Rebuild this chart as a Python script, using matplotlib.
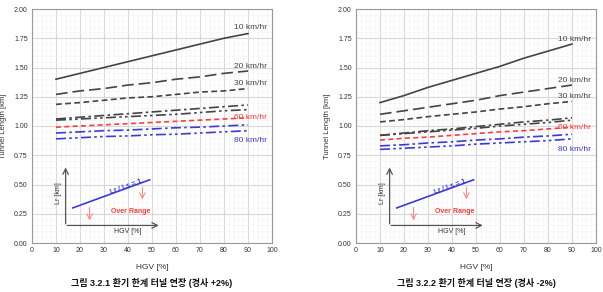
import matplotlib
matplotlib.use("Agg")
import matplotlib.pyplot as plt
import numpy as np

plt.rcParams['font.family'] = ['Liberation Sans', 'Noto Sans CJK KR', 'DejaVu Sans']

hgv = [10, 20, 30, 40, 50, 60, 70, 80, 90]

speeds = ['10 km/hr', '20 km/hr', '30 km/hr', '40 km/hr', '50 km/hr', '60 km/hr', '70 km/hr', '80 km/hr']

left_series = {
    '10 km/hr': [1.40, 1.45, 1.50, 1.55, 1.60, 1.65, 1.70, 1.75, 1.79],
    '20 km/hr': [1.27, 1.30, 1.32, 1.35, 1.37, 1.40, 1.42, 1.45, 1.47],
    '30 km/hr': [1.185, 1.20, 1.22, 1.24, 1.25, 1.27, 1.29, 1.30, 1.32],
    '40 km/hr': [1.06, 1.075, 1.09, 1.105, 1.12, 1.135, 1.15, 1.165, 1.18],
    '50 km/hr': [1.05, 1.06, 1.07, 1.08, 1.09, 1.10, 1.115, 1.13, 1.14],
    '60 km/hr': [0.99, 1.00, 1.01, 1.02, 1.03, 1.04, 1.05, 1.06, 1.07],
    '70 km/hr': [0.94, 0.95, 0.96, 0.965, 0.975, 0.985, 0.99, 1.00, 1.01],
    '80 km/hr': [0.89, 0.90, 0.91, 0.915, 0.925, 0.93, 0.94, 0.95, 0.96],
}

right_series = {
    '10 km/hr': [1.20, 1.26, 1.33, 1.39, 1.45, 1.51, 1.58, 1.64, 1.70],
    '20 km/hr': [1.10, 1.13, 1.16, 1.19, 1.22, 1.26, 1.29, 1.32, 1.35],
    '30 km/hr': [1.035, 1.055, 1.08, 1.10, 1.12, 1.145, 1.165, 1.19, 1.21],
    '40 km/hr': [0.92, 0.94, 0.96, 0.975, 0.995, 1.015, 1.035, 1.05, 1.07],
    '50 km/hr': [0.92, 0.935, 0.95, 0.965, 0.98, 1.00, 1.015, 1.03, 1.05],
    '60 km/hr': [0.88, 0.895, 0.905, 0.92, 0.935, 0.95, 0.96, 0.975, 0.99],
    '70 km/hr': [0.83, 0.84, 0.855, 0.865, 0.88, 0.89, 0.905, 0.915, 0.93],
    '80 km/hr': [0.80, 0.81, 0.82, 0.83, 0.845, 0.855, 0.865, 0.875, 0.89],
}

left_labels = {'10 km/hr': 1.84, '20 km/hr': 1.51, '30 km/hr': 1.36, '60 km/hr': 1.07, '80 km/hr': 0.88}
right_labels = {'10 km/hr': 1.74, '20 km/hr': 1.39, '30 km/hr': 1.25, '60 km/hr': 0.99, '80 km/hr': 0.80}

captions = ['그림 3.2.1 환기 한계 터널 연장 (경사 +2%)', '그림 3.2.2 환기 한계 터널 연장 (경사 -2%)']

BLK = '#444444'
RED = '#ff3b3b'
BLU = '#3b3bd6'
LW = 1.2
styles = {
    '10 km/hr': dict(color=BLK, ls='-', lw=LW),
    '20 km/hr': dict(color=BLK, ls=(0, (7, 3)), lw=LW),
    '30 km/hr': dict(color=BLK, ls=(0, (3.5, 2)), lw=LW),
    '40 km/hr': dict(color=BLK, ls=(0, (6, 2, 1.5, 2)), lw=LW),
    '50 km/hr': dict(color=BLK, ls=(0, (6, 2, 1.5, 2, 1.5, 2)), lw=LW),
    '60 km/hr': dict(color=RED, ls=(0, (3, 2)), lw=LW),
    '70 km/hr': dict(color=BLU, ls=(0, (6, 2, 1.5, 2)), lw=LW),
    '80 km/hr': dict(color=BLU, ls=(0, (6, 2, 1.5, 2, 1.5, 2)), lw=LW),
}
label_colors = {'10 km/hr': BLK, '20 km/hr': BLK, '30 km/hr': BLK, '60 km/hr': RED, '80 km/hr': BLU}

W, H = 603, 292
fig = plt.figure(figsize=(W / 100, H / 100), dpi=100)

def draw(ax_left_px, series, labels, caption):
    ax = fig.add_axes([ax_left_px / W, (H - 243) / H, 240 / W, 234 / H])
    ax.set_xlim(0, 100)
    ax.set_ylim(0, 2.0)
    ax.set_xticks(np.arange(0, 101, 10))
    ax.set_yticks(np.arange(0, 2.01, 0.25))
    ax.set_yticklabels([f'{v:.2f}' for v in np.arange(0, 2.01, 0.25)])
    ax.set_xticks(np.arange(0, 101, 2), minor=True)
    ax.set_yticks(np.arange(0, 2.01, 0.05), minor=True)
    ax.grid(which='major', color='#d8d8d8', lw=0.8)
    ax.grid(which='minor', color='#f4f4f4', lw=0.4)
    ax.set_axisbelow(True)
    ax.tick_params(which='both', length=0, labelsize=5, colors='#333333', pad=3)
    for s in ax.spines.values():
        s.set_color('#999999')
        s.set_linewidth(0.8)
    for name in speeds:
        ax.plot(hgv, series[name], **styles[name])
    for name, y in labels.items():
        ax.text(98, y, name, ha='right', va='center', fontsize=6, color=label_colors[name])
    ax.set_xlabel('HGV [%]', fontsize=6, color='#333333', labelpad=7)
    ax.set_ylabel('Tunnel Length [km]', fontsize=5.5, color='#333333', labelpad=5)
    # inset schematic
    ax.annotate('', xy=(14, 0.67), xytext=(14, 0.14),
                arrowprops=dict(arrowstyle='->', color='#555555', lw=0.9))
    ax.annotate('', xy=(54, 0.15), xytext=(13.5, 0.15),
                arrowprops=dict(arrowstyle='->', color='#555555', lw=0.9))
    ax.plot([17, 49], [0.30, 0.54], color=BLU, lw=1.2)
    ax.text(39, 0.475, 'Lr / Ls = 1', color=BLU, fontsize=5, fontweight='bold',
            rotation=20, ha='center', va='center')
    ax.text(11.2, 0.43, 'Lr [km]', rotation=90, fontsize=5, color='#333333', ha='center', va='center')
    ax.text(40, 0.10, 'HGV [%]', fontsize=5, color='#333333', ha='center', va='center')
    ax.text(41, 0.265, 'Over Range', fontsize=5, color=RED, fontweight='bold', ha='center', va='center')
    ax.annotate('', xy=(24, 0.17), xytext=(24, 0.33),
                arrowprops=dict(arrowstyle='->', color='#ff8080', lw=0.7))
    ax.annotate('', xy=(46, 0.35), xytext=(46, 0.50),
                arrowprops=dict(arrowstyle='->', color='#ff8080', lw=0.7))
    fig.text((ax_left_px + 120) / W, 1 - 283 / H, caption, ha='center', va='center',
             fontsize=6.5, fontweight='bold', color='#111111')

draw(32, left_series, left_labels, captions[0])
draw(356, right_series, right_labels, captions[1])

fig.savefig('out.png', dpi=100)
